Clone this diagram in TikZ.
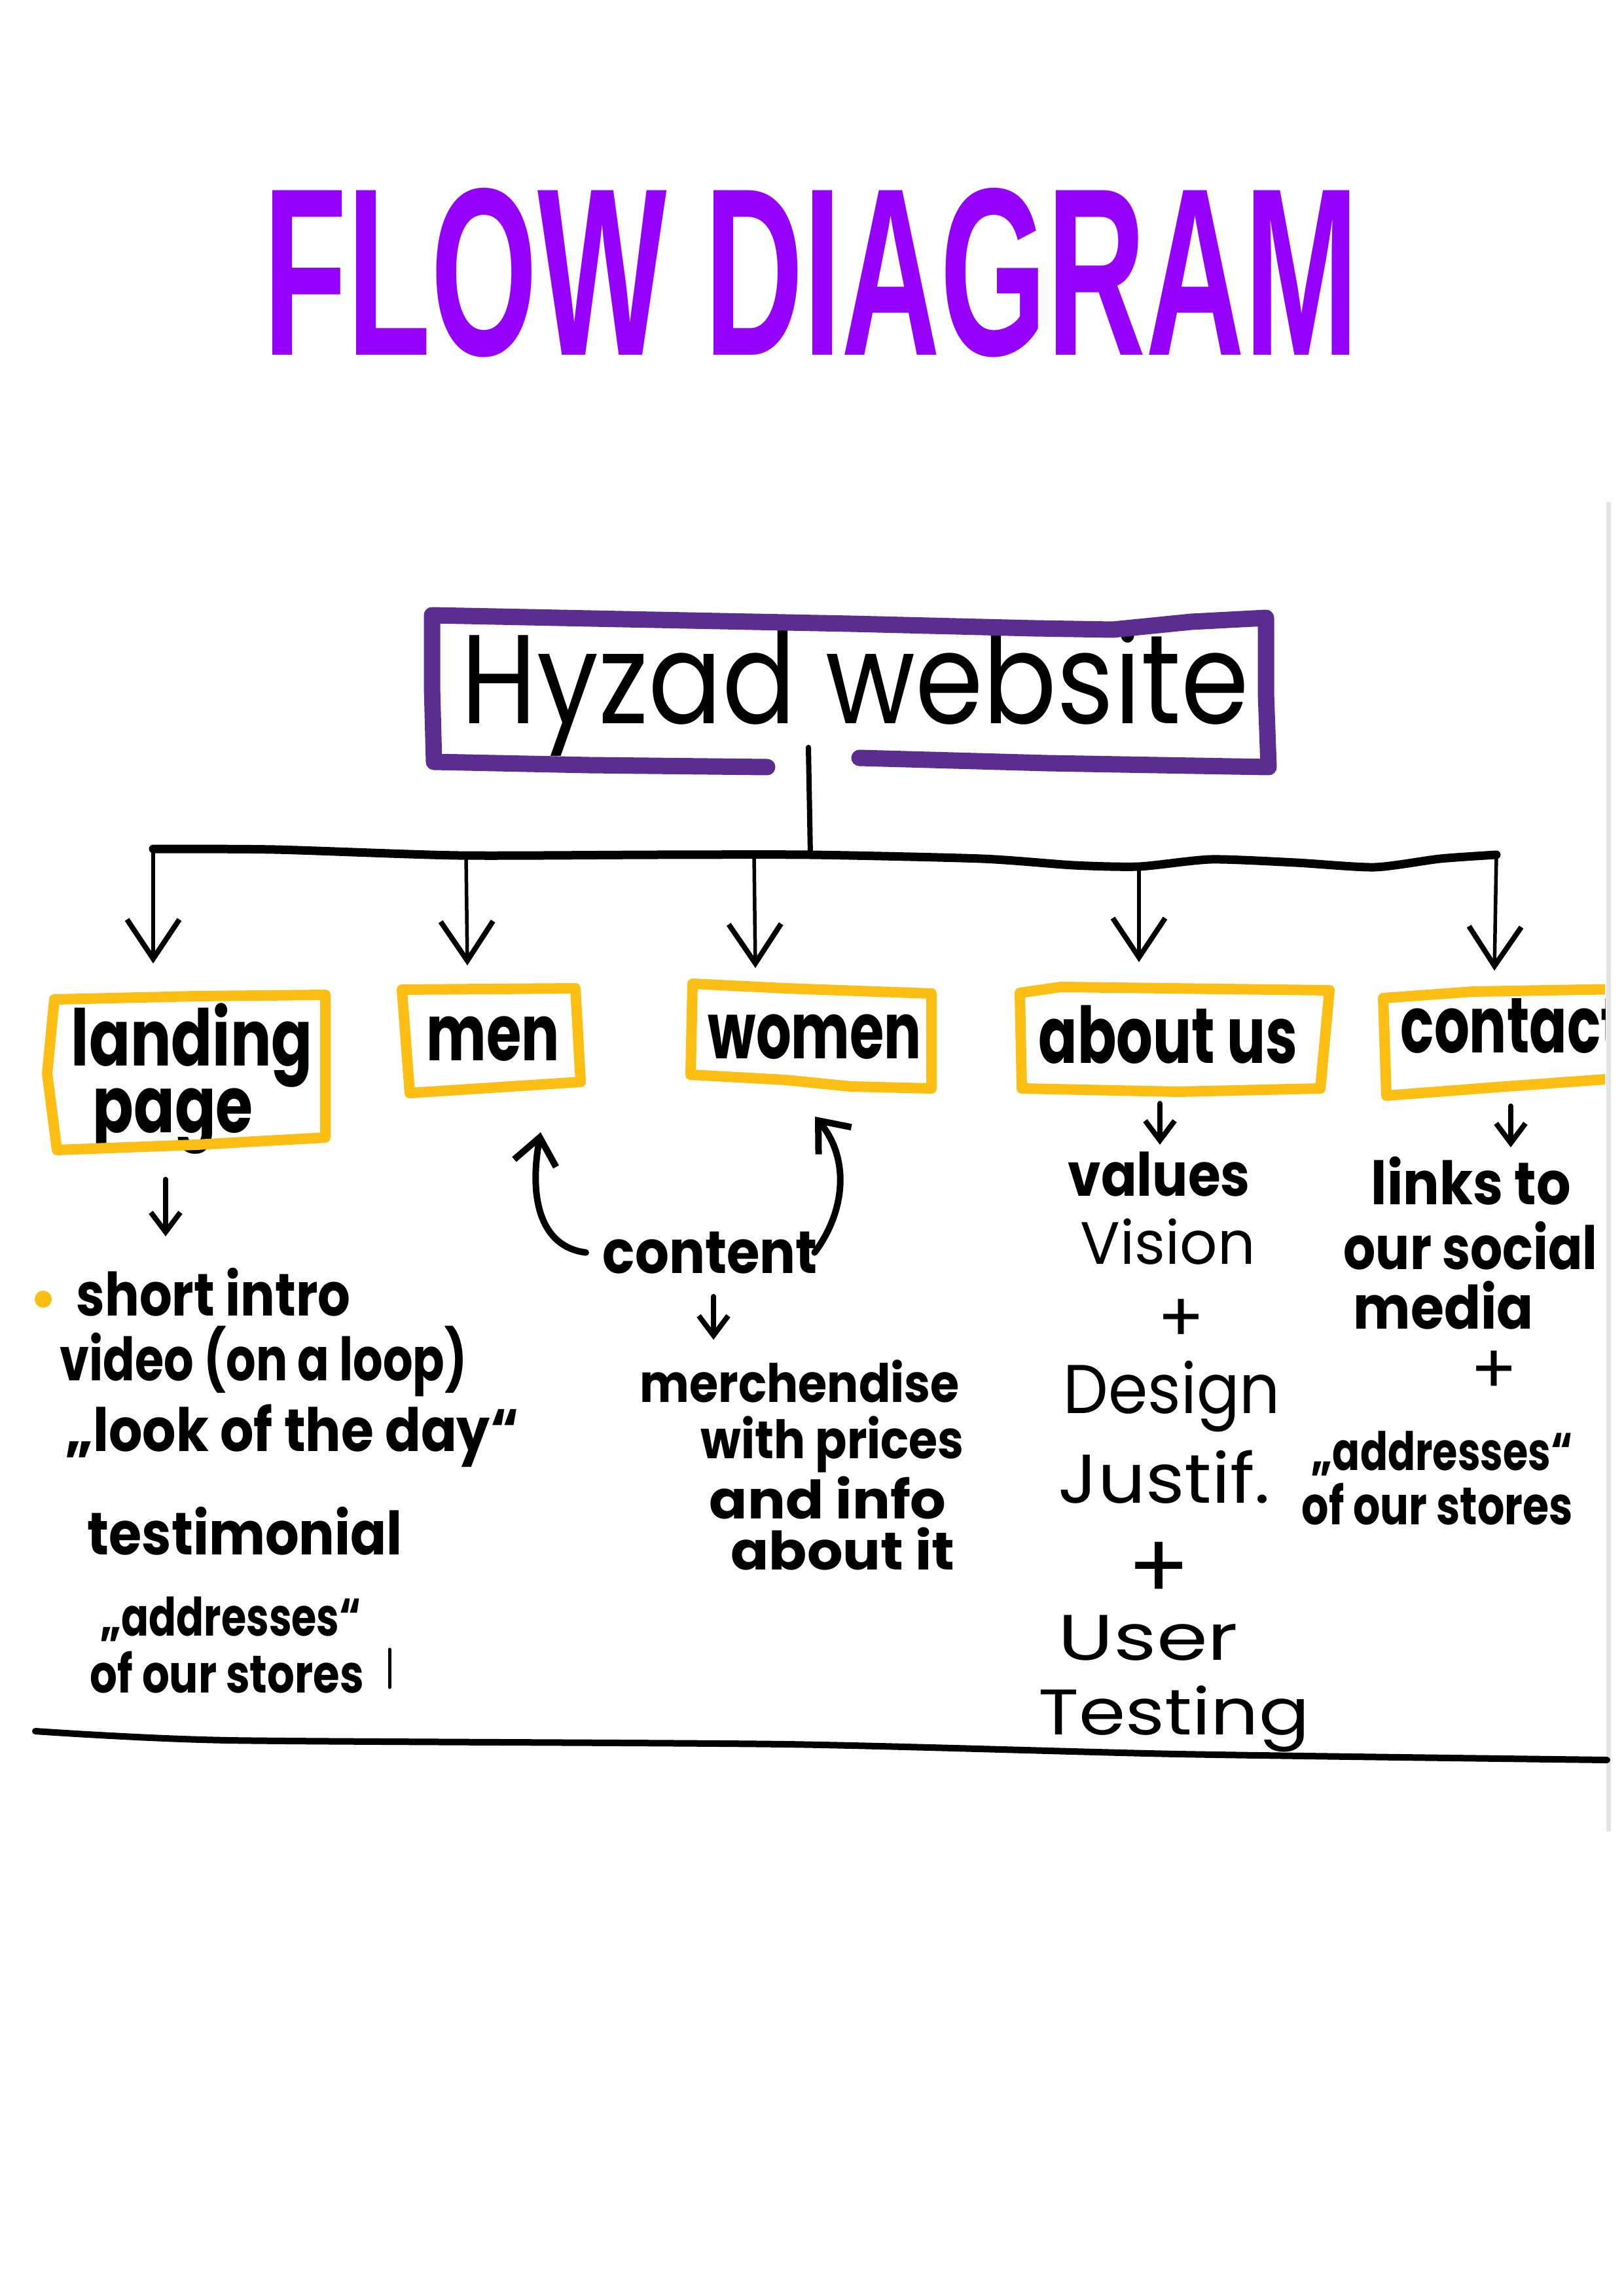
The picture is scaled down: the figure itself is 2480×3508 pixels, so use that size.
\documentclass[tikz,border=0pt]{standalone}
\usepackage{fontspec}
\usepackage{graphicx}
\setmainfont{Poppins}
\newfontfamily\titlefont{Liberation Sans}
\usetikzlibrary{arrows.meta}

\definecolor{titlepurple}{RGB}{150,0,255}
\definecolor{boxpurple}{RGB}{92,45,145}
\definecolor{marker}{RGB}{253,190,20}
\definecolor{edgegrey}{RGB}{228,228,228}

% one drawing unit = 0.1 mm; text is squeezed to a given width in those units
\newlength\pxu
\setlength\pxu{0.1mm}
\newcommand\fitw[2]{\resizebox{#1\pxu}{\height}{#2}}

\tikzset{
  txt/.style={inner sep=0pt, anchor=base west},
  lbl/.style={txt, font=\bfseries\fontsize{34}{36}\selectfont},
  hand/.style={txt, font=\bfseries\fontsize{26}{28}\selectfont},
  handsm/.style={txt, font=\bfseries\fontsize{23}{25}\selectfont},
  pen/.style={txt, font=\fontsize{30}{32}\selectfont},
  plus/.style={inner sep=0pt, font=\fontsize{36}{36}\selectfont},
  purplebox/.style={draw=boxpurple, line width=2.5mm},
  goldbox/.style={draw=marker, line width=1.6mm},
  bus/.style={line width=1.3mm},
  drop/.style={line width=0.55mm, -{Straight Barb[length=6mm,width=8mm,line width=0.8mm]}},
  smallarrow/.style={line width=0.8mm, -{Straight Barb[length=3mm,width=4.5mm]}},
  curvy/.style={line width=1mm, -{Straight Barb[length=4mm,width=6.5mm]}},
}

\begin{document}
\begin{tikzpicture}[x=0.1mm, y=-0.1mm, line cap=round, line join=round]
\fill[white] (0,0) rectangle (2480,3508);
\useasboundingbox (0,0) rectangle (2480,3508);

% heading
\node[txt, text=titlepurple, font=\titlefont\bfseries\fontsize{104}{110}\selectfont]
  (title) at (402,543) {\fitw{1673}{FLOW DIAGRAM}};

% edge of the pasted sheet
\draw[edgegrey, line width=0.7mm, line cap=butt] (2457,767) -- (2457,2798);

% top box
\node[txt, font=\fontsize{55}{58}\selectfont] (hyzad) at (704,1105) {\fitw{1203}{Hyzad website}};
\draw[purplebox] (1172,1172) -- (900,1169) -- (663,1164) -- (660,1050) -- (660,940)
  -- (1000,947) -- (1300,953) -- (1580,960) -- (1700,962) -- (1820,950) -- (1934,944)
  -- (1934,1060) -- (1938,1172) -- (1600,1166) -- (1313,1158);

% stem and bus
\coordinate (stemtop) at (1235,1142);
\coordinate (stembot) at (1238,1306);
\draw[line width=0.8mm] (stemtop) -- (stembot);

\coordinate (d1) at (234,1297);
\coordinate (d2) at (712,1308);
\coordinate (d3) at (1152,1307);
\coordinate (d4) at (1740,1322);
\coordinate (d5) at (2286,1306);
\draw[bus] plot[smooth, tension=0.4] coordinates {(d1) (420,1298) (700,1307) (1000,1306)
  (1238,1306) (1500,1312) (1640,1322) (1740,1324) (1850,1313) (1980,1318) (2100,1325)
  (2200,1312) (d5)};

\coordinate (t1) at (234,1472);
\coordinate (t2) at (714,1475);
\coordinate (t3) at (1154,1479);
\coordinate (t4) at (1740,1470);
\coordinate (t5) at (2283,1483);
\draw[drop] (d1) -- (t1);
\draw[drop] (d2) -- (t2);
\draw[drop] (d3) -- (t3);
\draw[drop] (d4) -- (t4);
\draw[drop] (d5) -- (t5);

% section boxes
\node[lbl] (landing) at (108,1628) {\fitw{369}{landing}};
\node[lbl] (page) at (141,1730) {\fitw{245}{page}};
\draw[goldbox] (83,1527) -- (300,1522) -- (497,1520) -- (497,1738) -- (300,1749)
  -- (87,1757) -- (72,1640) -- cycle;

\node[lbl] (men) at (651,1620) {\fitw{203}{men}};
\draw[goldbox] (614,1512) -- (879,1510) -- (887,1653) -- (626,1670) -- cycle;

\node[lbl] (women) at (1081,1617) {\fitw{326}{women}};
\draw[goldbox] (1058,1503) -- (1200,1510) -- (1423,1518) -- (1423,1663) -- (1300,1660)
  -- (1200,1650) -- (1055,1642) -- cycle;

\node[lbl] (about) at (1586,1624) {\fitw{396}{about us}};
\draw[goldbox] (1558,1517) -- (1620,1508) -- (2031,1513) -- (2017,1663) -- (1800,1668)
  -- (1561,1663) -- cycle;

\begin{scope}
  \clip (1900,1400) rectangle (2452,1800);
  \node[lbl] (contact) at (2139,1608) {\fitw{340}{contact}};
  \draw[goldbox] (2480,1511) -- (2250,1515) -- (2113,1525) -- (2118,1674) -- (2300,1660)
    -- (2480,1647);
\end{scope}

% landing page column
\coordinate (la1) at (253,1802);
\coordinate (la2) at (253,1889);
\draw[smallarrow] (la1) -- (la2);
\fill[marker] (66,1985) circle (13);
\node[hand] (intro) at (116,2010) {\fitw{419}{short intro}};
\node[hand] (video) at (91,2109) {\fitw{622}{video (on a loop)}};
\node[hand] (look) at (100,2217) {\fitw{692}{„look of the day“}};
\node[hand] (testi) at (133,2375) {\fitw{481}{testimonial}};
\node[handsm] (addr1) at (153,2499) {\fitw{398}{„addresses“}};
\node[handsm] (stores1) at (137,2586) {\fitw{418}{of our stores}};
\draw[line width=0.5mm] (595,2520) -- (595,2578);

% men / women column
\node[hand] (content) at (920,1945) {\fitw{328}{content}};
\draw[curvy] ([xshift=-2.5mm]content.west) .. controls (825,1905) and (808,1830) .. (826,1730);
\draw[curvy] ([xshift=-0.5mm]content.east) .. controls (1292,1850) and (1298,1770) .. (1245,1706);
\coordinate (ca1) at (1090,1981);
\coordinate (ca2) at (1090,2047);
\draw[smallarrow] (ca1) -- (ca2);
\node[handsm] (merch) at (977,2142) {\fitw{488}{merchendise}};
\node[handsm] (prices) at (1070,2228) {\fitw{402}{with prices}};
\node[handsm] (info) at (1083,2320) {\fitw{362}{and info}};
\node[handsm] (aboutit) at (1116,2398) {\fitw{342}{about it}};

% about us column
\coordinate (aa1) at (1772,1686);
\coordinate (aa2) at (1772,1749);
\draw[smallarrow] (aa1) -- (aa2);
\node[hand] (values) at (1631,1827) {\fitw{278}{values}};
\node[pen, font=\fontsize{26}{28}\selectfont] (vision) at (1650,1931) {\fitw{267}{Vision}};
\node[plus, font=\fontsize{30}{30}\selectfont] (plusA) at (1804,2018) {+};
\node[pen] (design) at (1624,2159) {\fitw{331}{Design}};
\node[pen] (justif) at (1616,2296) {\fitw{324}{Justif.}};
\node[plus, font=\fontsize{40}{40}\selectfont] (plusB) at (1770,2400) {+};
\node[pen, font=\fontsize{28}{30}\selectfont] (user) at (1616,2536) {\fitw{275}{User}};
\node[pen, font=\fontsize{28}{30}\selectfont] (testing) at (1586,2650) {\fitw{414}{Testing}};

% contact column
\coordinate (ka1) at (2308,1690);
\coordinate (ka2) at (2308,1753);
\draw[smallarrow] (ka1) -- (ka2);
\node[hand] (links) at (2094,1840) {\fitw{305}{links to}};
\node[hand] (social) at (2052,1939) {\fitw{388}{our social}};
\node[hand] (media) at (2067,2030) {\fitw{275}{media}};
\node[plus, font=\fontsize{30}{30}\selectfont] (plusC) at (2282,2097) {+};
\node[handsm] (addr2) at (2003,2246) {\fitw{399}{„addresses“}};
\node[handsm] (stores2) at (1988,2329) {\fitw{414}{of our stores}};

% closing rule
\coordinate (ruleL) at (54,2645);
\coordinate (ruleR) at (2455,2689);
\draw[line width=1mm] plot[smooth, tension=0.4] coordinates {(ruleL) (350,2659) (1200,2665)
  (1800,2680) (ruleR)};
\end{tikzpicture}
\end{document}
